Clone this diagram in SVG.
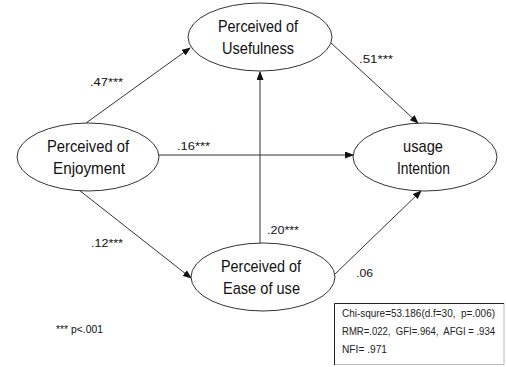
<svg xmlns="http://www.w3.org/2000/svg" width="506" height="367" viewBox="0 0 506 367">
<defs>
<marker id="arr" markerUnits="userSpaceOnUse" markerWidth="9" markerHeight="7" refX="8" refY="3.5" orient="auto">
<path d="M0,0 L9,3.5 L0,7 z" fill="#111"/>
</marker>
<style>
.node ellipse{fill:#fff;stroke:#333;stroke-width:1}
.lbl{font-family:"Liberation Sans",Arial,sans-serif;font-size:17px;fill:#111}
.coef{font-family:"Liberation Sans",Arial,sans-serif;font-size:11px;fill:#111}
.fit{font-family:"Liberation Sans",Arial,sans-serif;font-size:10px;fill:#222;white-space:pre}
#connectors line{stroke:#333;stroke-width:1;marker-end:url(#arr)}
</style>
</defs>
<rect width="506" height="367" fill="#fff"/>
<g id="connectors">
<line x1="86" y1="123" x2="190" y2="48"/>
<line x1="159" y1="155" x2="353" y2="155"/>
<line x1="79" y1="190" x2="191" y2="278"/>
<line x1="260" y1="243" x2="260" y2="72"/>
<line x1="331" y1="43" x2="418" y2="123"/>
<line x1="334" y1="275" x2="421" y2="191"/>
</g>
<g id="usefulness" class="node">
<ellipse cx="260" cy="37" rx="72" ry="34"/>
<text class="lbl" x="218" y="32" textLength="80" lengthAdjust="spacingAndGlyphs">Perceived of</text>
<text class="lbl" x="222" y="54" textLength="72" lengthAdjust="spacingAndGlyphs">Usefulness</text>
</g>
<g id="enjoyment" class="node">
<ellipse cx="88" cy="157" rx="71" ry="34"/>
<text class="lbl" x="47" y="152" textLength="82" lengthAdjust="spacingAndGlyphs">Perceived of</text>
<text class="lbl" x="53" y="174" textLength="72" lengthAdjust="spacingAndGlyphs">Enjoyment</text>
</g>
<g id="intention" class="node">
<ellipse cx="425" cy="157" rx="72" ry="34"/>
<text class="lbl" x="403" y="152" textLength="40" lengthAdjust="spacingAndGlyphs">usage</text>
<text class="lbl" x="397" y="174" textLength="53" lengthAdjust="spacingAndGlyphs">Intention</text>
</g>
<g id="ease" class="node">
<ellipse cx="263" cy="277" rx="72" ry="34"/>
<text class="lbl" x="221" y="272" textLength="80" lengthAdjust="spacingAndGlyphs">Perceived of</text>
<text class="lbl" x="223" y="294" textLength="77" lengthAdjust="spacingAndGlyphs">Ease of use</text>
</g>
<g id="labels">
<text class="coef" x="90" y="86" textLength="33" lengthAdjust="spacingAndGlyphs">.47***</text>
<text class="coef" x="177" y="150" textLength="33" lengthAdjust="spacingAndGlyphs">.16***</text>
<text class="coef" x="359" y="63" textLength="34" lengthAdjust="spacingAndGlyphs">.51***</text>
<text class="coef" x="91" y="247" textLength="32" lengthAdjust="spacingAndGlyphs">.12***</text>
<text class="coef" x="267" y="234" textLength="32" lengthAdjust="spacingAndGlyphs">.20***</text>
<text class="coef" x="356" y="277" textLength="17" lengthAdjust="spacingAndGlyphs">.06</text>
<text class="coef" x="56" y="333" textLength="47" lengthAdjust="spacingAndGlyphs">*** p&lt;.001</text>
</g>
<g id="fit-box">
<rect x="334.5" y="303.5" width="169.5" height="61" fill="#fff" stroke="#bbb" stroke-width="1"/>
<path d="M334.5,365 V303.5 H504" fill="none" stroke="#222" stroke-width="1"/>
<text class="fit" x="342" y="317" textLength="153" lengthAdjust="spacingAndGlyphs">Chi-squre=53.186(d.f=30,  p=.006)</text>
<text class="fit" x="342" y="335" textLength="153" lengthAdjust="spacingAndGlyphs">RMR=.022,  GFI=.964,  AFGI = .934</text>
<text class="fit" x="342" y="353" textLength="45" lengthAdjust="spacingAndGlyphs">NFI= .971</text>
</g>
</svg>
